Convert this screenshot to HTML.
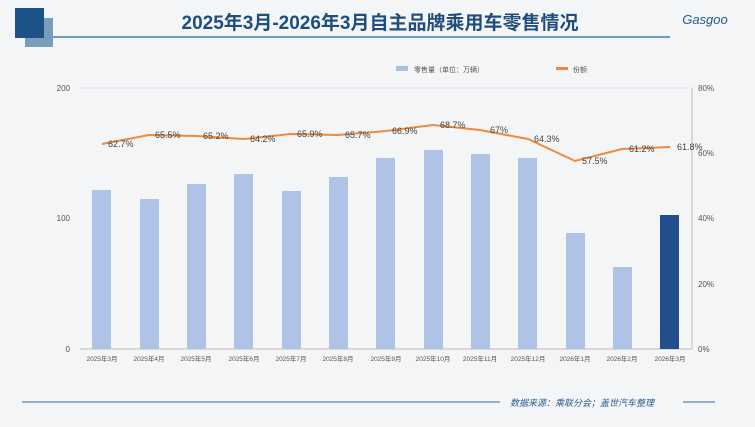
<!DOCTYPE html>
<html><head><meta charset="utf-8"><style>
body{margin:0;width:755px;height:422px;background:#f4f5f7;overflow:hidden;font-family:"Liberation Sans","Noto Sans CJK SC",sans-serif}
</style></head><body>
<svg width="755" height="422" xmlns="http://www.w3.org/2000/svg" font-family="Liberation Sans, Noto Sans CJK SC, sans-serif">
<rect x="0" y="0" width="755" height="422" fill="#f4f5f7"/>
<rect x="25" y="18" width="28" height="29" fill="#5d87ad" opacity="0.8"/>
<rect x="15" y="8" width="29" height="30" fill="#1d5288"/>
<line x1="44" y1="37" x2="670" y2="37" stroke="#6f9cc4" stroke-width="2"/>
<text x="380" y="29" text-anchor="middle" font-size="19" font-weight="bold" fill="#1f4e7d">2025年3月-2026年3月自主品牌乘用车零售情况</text>
<text x="705" y="24" text-anchor="middle" font-size="13" font-style="italic" fill="#2a5a8a">Gasgoo</text>
<rect x="396" y="66" width="12" height="5" fill="#aac0e3"/>
<text x="414" y="72" font-size="7" fill="#555">零售量（单位：万辆）</text>
<rect x="556" y="67" width="12" height="3" fill="#f08a3a"/>
<text x="573" y="72" font-size="7" fill="#555">份额</text>
<line x1="80" y1="88" x2="692" y2="88" stroke="#e2e4e8"/>
<line x1="80" y1="349" x2="692" y2="349" stroke="#bbb"/>
<line x1="692" y1="88" x2="692" y2="349" stroke="#bbb"/>
<g font-size="8" fill="#555">
<text x="70" y="91" text-anchor="end">200</text>
<text x="70" y="221" text-anchor="end">100</text>
<text x="70" y="352" text-anchor="end">0</text>
<text x="698" y="91">80%</text><text x="698" y="156">60%</text><text x="698" y="221">40%</text><text x="698" y="287">20%</text><text x="698" y="352">0%</text>
</g>
<g fill="#aec3e5">
<rect x="92" y="190" width="19" height="159"/>
<rect x="140" y="199" width="19" height="150"/>
<rect x="187" y="184" width="19" height="165"/>
<rect x="234" y="174" width="19" height="175"/>
<rect x="282" y="191" width="19" height="158"/>
<rect x="329" y="177" width="19" height="172"/>
<rect x="376" y="158" width="19" height="191"/>
<rect x="424" y="150" width="19" height="199"/>
<rect x="471" y="154" width="19" height="195"/>
<rect x="518" y="158" width="19" height="191"/>
<rect x="566" y="233" width="19" height="116"/>
<rect x="613" y="267" width="19" height="82"/>
</g>
<rect x="660" y="215" width="19" height="134" fill="#234e8e"/>
<polyline fill="none" stroke="#f08a3a" stroke-width="2" points="102,144 149,135 196,136 244,139 291,134 338,135 386,131 433,125 480,130 528,139 575,161 622,149 670,147"/>
<g font-size="9" fill="#444">
<text x="108" y="147">62.7%</text><text x="155" y="138">65.5%</text><text x="203" y="139">65.2%</text><text x="250" y="142">64.2%</text>
<text x="297" y="137">65.9%</text><text x="345" y="138">65.7%</text><text x="392" y="134">66.9%</text><text x="440" y="128">68.7%</text>
<text x="490" y="133">67%</text><text x="534" y="142">64.3%</text><text x="582" y="164">57.5%</text><text x="629" y="152">61.2%</text><text x="677" y="150">61.8%</text>
</g>
<g font-size="6.5" fill="#555" text-anchor="middle">
<text x="102" y="361">2025年3月</text><text x="149" y="361">2025年4月</text><text x="196" y="361">2025年5月</text><text x="244" y="361">2025年6月</text>
<text x="291" y="361">2025年7月</text><text x="338" y="361">2025年8月</text><text x="386" y="361">2025年9月</text><text x="433" y="361">2025年10月</text>
<text x="480" y="361">2025年11月</text><text x="528" y="361">2025年12月</text><text x="575" y="361">2026年1月</text><text x="622" y="361">2026年2月</text><text x="670" y="361">2026年3月</text>
</g>
<line x1="22" y1="402" x2="500" y2="402" stroke="#8fb0cc" stroke-width="2"/>
<text x="510" y="406" font-size="9" font-style="italic" fill="#2a5a8a">数据来源：乘联分会；盖世汽车整理</text>
<line x1="683" y1="402" x2="715" y2="402" stroke="#8fb0cc" stroke-width="2"/>
</svg>
</body></html>
